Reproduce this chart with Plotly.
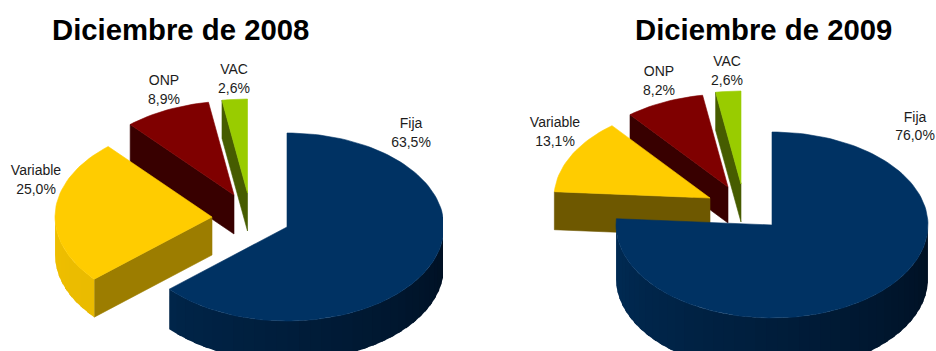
import math
import plotly.graph_objects as go

# ---- data ----
categories = ["Fija", "Variable", "ONP", "VAC"]
values_2008 = [63.5, 25.0, 8.9, 2.6]
values_2009 = [76.0, 13.1, 8.2, 2.6]
labels_2008 = ["63,5%", "25,0%", "8,9%", "2,6%"]
labels_2009 = ["76,0%", "13,1%", "8,2%", "2,6%"]
titles = ["Diciembre de 2008", "Diciembre de 2009"]

# ---- styling and layout (pixel-like axis units) ----
W, H, SPLIT = 936, 351, 443
TOP = {"Fija": "#003263", "Variable": "#ffcc00", "ONP": "#7f0000", "VAC": "#99cc00"}
WALL_L = {"Fija": (0, 44, 86), "Variable": (240, 192, 0), "ONP": (90, 0, 0), "VAC": (80, 100, 0)}
WALL_R = {"Fija": (0, 16, 34), "Variable": (214, 170, 0), "ONP": (60, 0, 0), "VAC": (60, 80, 0)}
PANELS = [
    dict(values=values_2008, pct=labels_2008, axis=("x", "y"), rx=157, ry=94,
         apex={"Fija": (287, 227), "Variable": (212, 217), "ONP": (234, 195), "VAC": (247.5, 193)},
         depth={"Fija": 40, "Variable": 38, "ONP": 39, "VAC": 38},
         cut={"Variable": "#9c7d00", "ONP": "#380000", "VAC": "#465c00"},
         text={"Fija": (411, 124, 143), "Variable": (36, 171, 190), "ONP": (164, 81, 100), "VAC": (234, 70, 89)},
         title=(180, 29)),
    dict(values=values_2009, pct=labels_2009, axis=("x2", "y2"), rx=156, ry=93,
         apex={"Fija": (772, 225), "Variable": (710, 198), "ONP": (728, 187), "VAC": (741, 184)},
         depth={"Fija": 54, "Variable": 38, "ONP": 36, "VAC": 38},
         cut={"Variable": "#6e5800", "ONP": "#380000", "VAC": "#465c00"},
         text={"Fija": (915, 118, 136), "Variable": (555, 123, 142), "ONP": (659, 72, 91), "VAC": (727, 62, 81)},
         title=(763, 29)),
]


def rim(apex, rx, ry, deg):
    t = math.radians(deg)
    return apex[0] + rx * math.sin(t), apex[1] - ry * math.cos(t)


def poly(fig, pts, color, axis, name, width=0.6):
    xs = [p[0] for p in pts] + [pts[0][0]]
    ys = [p[1] for p in pts] + [pts[0][1]]
    fig.add_trace(go.Scatter(x=xs, y=ys, mode="lines", fill="toself", fillcolor=color,
                             line=dict(color=color, width=width), name=name,
                             hoverinfo="skip", showlegend=False, xaxis=axis[0], yaxis=axis[1]))


def mix(a, b, f):
    return "rgb(%d,%d,%d)" % tuple(a[i] + (b[i] - a[i]) * f for i in range(3))


def draw_slice(fig, p, cat, start, end):
    apex, rx, ry, d, axis = p["apex"][cat], p["rx"], p["ry"], p["depth"][cat], p["axis"]
    # radial faces seen from the front
    if 180 < start < 360:
        a, b = apex, rim(apex, rx, ry, start)
        poly(fig, [a, b, (b[0], b[1] + d), (a[0], a[1] + d)], p["cut"][cat], axis, cat)
    # outer wall: only the front half of the rim, overlapping shaded strips
    lo, hi = max(start, 90), min(end, 270)
    if hi > lo:
        n = max(2, int((hi - lo) / 4))
        for i in range(n):
            t1 = hi - (hi - lo) * i / n
            t2 = max(lo, hi - (hi - lo) * (i + 1) / n - 2)
            pts = [rim(apex, rx, ry, t1 + (t2 - t1) * k / 4) for k in range(5)]
            f = (270 - (t1 + t2) / 2) / 180
            poly(fig, pts + [(x, y + d) for x, y in reversed(pts)],
                 mix(WALL_L[cat], WALL_R[cat], f), axis, cat, width=0)
    # top surface
    n = max(2, int((end - start) / 2))
    pts = [apex] + [rim(apex, rx, ry, start + (end - start) * i / n) for i in range(n + 1)]
    poly(fig, pts, TOP[cat], axis, cat)


fig = go.Figure()
for p in PANELS:
    total = sum(p["values"])
    spans, acc = {}, 0.0
    for cat, v in zip(categories, p["values"]):
        spans[cat] = (acc / total * 360, (acc + v) / total * 360)
        acc += v
    for cat in reversed(categories):  # back slices first, Fija in front
        draw_slice(fig, p, cat, *spans[cat])
    for cat, pct in zip(categories, p["pct"]):
        x, y1, y2 = p["text"][cat]
        fig.add_trace(go.Scatter(x=[x, x], y=[y1, y2], text=[cat, pct], mode="text",
                                 textfont=dict(family="Liberation Sans", size=14, color="#1c1c1c"),
                                 hoverinfo="skip", showlegend=False,
                                 xaxis=p["axis"][0], yaxis=p["axis"][1]))

for p, title in zip(PANELS, titles):
    xref, yref = p["axis"]
    fig.add_annotation(x=p["title"][0], y=p["title"][1], xref=xref, yref=yref, text="<b>%s</b>" % title,
                       showarrow=False, font=dict(family="Liberation Sans", size=29.3, color="#000000"))

hidden = dict(visible=False, showgrid=False, zeroline=False, fixedrange=True)
fig.update_layout(
    width=W, height=H, margin=dict(l=0, r=0, t=0, b=0),
    paper_bgcolor="#ffffff", plot_bgcolor="#ffffff", showlegend=False,
    xaxis=dict(domain=[0, SPLIT / W], range=[0, SPLIT], **hidden),
    yaxis=dict(domain=[0, 1], range=[H, 0], **hidden),
    xaxis2=dict(domain=[SPLIT / W, 1], range=[SPLIT, W], **hidden),
    yaxis2=dict(domain=[0, 1], range=[H, 0], anchor="x2", **hidden),
)
fig.write_html("out.html", config={"displayModeBar": False},
               post_script="document.body.style.margin='0';document.documentElement.style.overflow='hidden';")
